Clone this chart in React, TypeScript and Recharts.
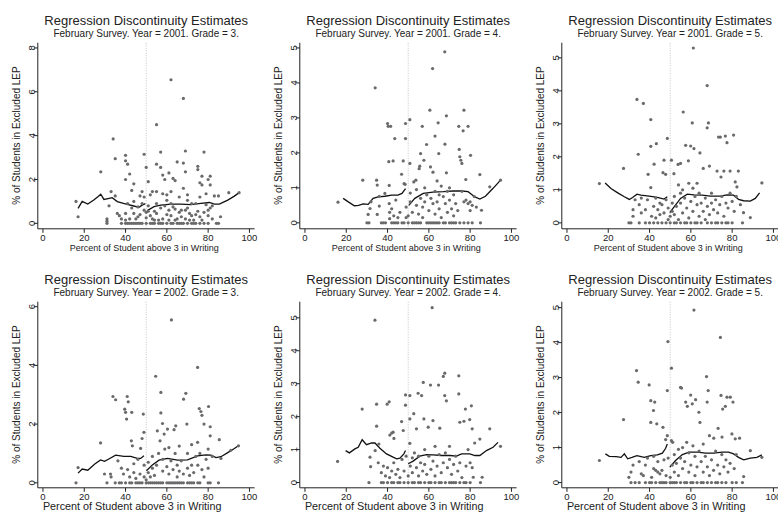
import React from "react";
import { ComposedChart, Scatter, Line, XAxis, YAxis, ReferenceLine } from "recharts";

type Pt = [number, number];

const FONT = '"Liberation Sans", Arial, sans-serif';
const TITLE = "Regression Discontinuity Estimates";
const X_LABEL = "Percent of Student above 3 in Writing";
const Y_LABEL = "% of Students in Excluded LEP";
const xTicks = [0, 20, 40, 60, 80, 100];
const cutoff = 50;

// 2001, grade 3
const p1Sub = "February Survey. Year = 2001. Grade = 3.";
const p1YTicks = [0, 2, 4, 6, 8];
const p1Points: Pt[] = [
  [16, 1.0], [17, 0.3], [28, 2.35], [31, 0.2], [31, 0.1], [31, 0], [32, 0.8], [33, 1.45], [34, 3.85], [35, 2.95],
  [35, 1.25], [36, 0.45], [37, 0.35], [38, 0.2], [38, 0], [40, 3.1], [40, 2.85], [41, 2.7], [42, 2.25], [40, 2.0],
  [43, 1.5], [44, 1.8], [40, 0.45], [41, 0.9], [43, 0.7], [44, 1.0], [42, 0.2], [40, 0.15], [40, 0], [41, 0],
  [42, 0], [43, 0], [44, 0], [44, 0.45], [45, 0.2], [45, 0], [46, 0.75], [46, 0.3], [46, 0], [47, 1.25],
  [47, 0.4], [47, 0], [48, 1.45], [48, 0.9], [48, 0], [49, 3.15], [49, 1.2], [49, 0.6], [50, 2.55], [50, 0.5],
  [50, 0.25], [50, 0], [51, 1.9], [51, 0.55], [51, 0.8], [52, 1.3], [52, 0.35], [52, 0], [53, 1.45], [53, 0.2],
  [53, 0], [54, 0.55], [54, 0.15], [54, 0], [55, 4.5], [55, 2.7], [55, 1.45], [55, 0.45], [55, 0.9], [56, 0.15],
  [56, 0], [57, 3.25], [57, 2.55], [57, 0.7], [57, 0], [58, 2.2], [58, 1.35], [58, 0.2], [58, 0], [59, 2.0],
  [59, 0.8], [60, 1.3], [60, 1.05], [60, 0.4], [60, 0], [61, 2.3], [61, 0.6], [61, 0.15], [62, 6.55], [62, 1.45],
  [62, 0.9], [62, 0.35], [62, 0], [63, 2.05], [63, 0.75], [63, 0], [64, 1.95], [64, 0.65], [64, 0.15], [65, 2.8],
  [65, 0.2], [65, 0], [66, 1.2], [66, 0.5], [66, 0], [67, 0.6], [67, 0.3], [67, 0], [68, 5.7], [68, 2.75],
  [68, 1.6], [68, 0], [69, 3.3], [69, 2.35], [69, 0.6], [69, 0.2], [70, 1.3], [70, 1.05], [70, 0.7], [70, 0],
  [71, 0.45], [71, 0.15], [72, 0.9], [72, 0.35], [72, 0], [73, 0.15], [73, 0], [74, 0.9], [74, 0.4], [74, 0],
  [75, 2.6], [75, 2.45], [75, 0.55], [76, 1.85], [76, 1.2], [76, 0.3], [76, 0], [77, 2.15], [77, 1.75], [77, 0.15],
  [78, 3.25], [78, 0.5], [78, 0], [79, 1.35], [79, 0.85], [80, 2.0], [80, 0.6], [80, 0.35], [80, 0], [81, 2.15],
  [81, 1.75], [81, 0.7], [82, 0.8], [82, 0.2], [83, 1.25], [84, 0], [85, 1.25], [85, 0], [86, 0.3], [90, 1.4],
  [95, 1.4],
];
const p1LineLeft: Pt[] = [
  [17, 0.68], [19, 1.0], [21.7, 0.88], [24.6, 1.06], [26.6, 1.21], [28, 1.33], [29.5, 1.09], [31, 1.12],
  [33.5, 1.17], [36, 0.99], [39, 0.91], [44, 0.79], [46.5, 0.73], [48, 0.83], [49.6, 0.9],
];
const p1LineRight: Pt[] = [
  [50.5, 0.58], [53.8, 0.76], [57, 0.83], [62, 0.88], [66.8, 0.88], [71.6, 0.85], [76.5, 0.91], [80.6, 0.95],
  [83, 0.88], [85.4, 0.88], [89.5, 1.06], [92.7, 1.24], [95, 1.4],
];

// 2001, grade 4
const p2Sub = "February Survey. Year = 2001. Grade = 4.";
const p2YTicks = [0, 1, 2, 3, 4, 5];
const p2Points: Pt[] = [
  [16, 0.59], [28, 1.22], [30, 0], [31, 0], [30.6, 0.24], [31.5, 0.41], [32, 0.6], [34, 3.86], [34.7, 1.22], [35, 1.08],
  [35, 0.24], [36, 0.76], [36, 0.48], [37, 0], [38, 0], [38.7, 0.84], [39, 0], [40, 2.84], [40.3, 2.76], [41.5, 2.76],
  [40.6, 1.75], [40.8, 1.07], [40.8, 0.55], [41, 0.3], [41, 0.12], [42, 0], [42.7, 1.77], [42, 0.4], [43, 0], [43, 0.2],
  [43.5, 2.41], [44, 0], [44, 0.65], [45, 0], [45, 0.15], [46, 0.3], [46.8, 1.39], [47, 0], [47.6, 1.77], [48, 1.12],
  [48.5, 1.1], [48, 0], [48.7, 2.84], [48.7, 2.41], [49, 0.45], [49, 0.15], [50, 0], [50, 0.2], [50.8, 2.95], [50.8, 1.7],
  [51, 0.85], [51, 0.6], [52, 0], [52, 0.3], [52.7, 1.17], [53, 0], [53.7, 1.22], [54, 0.95], [54, 0.5], [54, 0],
  [55, 0], [55, 0.25], [55.3, 1.55], [55.6, 1.62], [56, 1.98], [56, 0.7], [56, 0], [56.8, 2.76], [57, 0.15], [57, 0.45],
  [57.6, 1.79], [58, 1.0], [58, 0.6], [59, 0], [58.9, 2.24], [59, 0.8], [60, 0], [60, 0.35], [60.5, 3.22], [60.8, 1.6],
  [61, 0], [61, 0.7], [61.8, 4.41], [62, 1.45], [62, 0.55], [62, 0], [63, 2.48], [63, 0.9], [63, 0], [63, 0.25],
  [64, 1.2], [64, 0.6], [64, 0], [64.5, 2.86], [64.8, 1.98], [65, 0], [65, 0.8], [65, 0.4], [66, 1.05], [66, 0.15],
  [67, 0], [67, 0.75], [67.7, 4.89], [67.8, 2.25], [68, 0], [68, 0.55], [68.5, 3.06], [68.5, 1.43], [69, 0.9], [69, 0.3],
  [70, 0], [70, 0.65], [70, 1.0], [71, 0], [71, 0.4], [72, 0.2], [72, 0], [72, 0.8], [73, 0], [73, 0.55],
  [74, 0.35], [74.5, 2.76], [74.7, 2.1], [75, 1.89], [75, 0], [75.5, 1.79], [76, 1.7], [76, 0.9], [76.6, 2.63], [77, 3.22],
  [77, 0], [77, 0.6], [77.9, 1.24], [78, 0.65], [79, 2.76], [79, 0], [79, 0.55], [80, 0.6], [80, 0.35], [80.2, 1.93],
  [81, 0], [81, 0.5], [82, 0.75], [83, 0.45], [84.7, 1.38], [85, 0], [85.5, 0.36], [89.5, 1.03], [94.7, 1.22],
];
const p2LineLeft: Pt[] = [
  [18.5, 0.7], [21, 0.6], [23.9, 0.49], [26, 0.5], [28.2, 0.54], [30.6, 0.53], [33, 0.7], [35.5, 0.74],
  [38.7, 0.76], [42, 0.79], [45, 0.79], [47, 0.84], [48.7, 0.98],
];
const p2LineRight: Pt[] = [
  [50.3, 0.5], [53.2, 0.7], [57.3, 0.84], [62, 0.88], [67, 0.89], [71.8, 0.91], [75.8, 0.91], [79, 0.89],
  [82.3, 0.74], [84.7, 0.68], [87.4, 0.76], [91, 0.98], [94.4, 1.2],
];

// 2001, grade 5
const p3Sub = "February Survey. Year = 2001. Grade = 5.";
const p3YTicks = [0, 1, 2, 3, 4, 5];
const p3Points: Pt[] = [
  [15.7, 1.19], [27.4, 1.65], [30, 0], [31, 0], [32, 0.2], [32, 0.4], [33, 0.7], [33.9, 3.74], [34.5, 2.08], [35, 0],
  [35, 0.55], [36, 0.3], [36, 0.75], [37, 3.62], [38, 0], [38, 0.4], [39, 0.7], [39.3, 1.47], [40, 0], [40.6, 3.13],
  [40.6, 2.32], [40.6, 1.07], [41, 0.2], [42, 0], [42, 0.5], [42.2, 1.78], [43, 0.15], [43, 0.75], [43.3, 2.4], [44, 0],
  [44, 0.4], [45, 0.6], [45, 0.25], [46, 0], [46, 0.55], [46.5, 1.52], [47, 1.9], [47, 0.3], [47.8, 1.47], [48, 0],
  [48, 0.7], [48.6, 2.56], [49, 0.45], [49, 0.1], [50, 0], [50, 0.2], [50.6, 1.9], [51, 0.6], [51, 0.35], [51.8, 1.49],
  [52, 0], [52, 0.25], [52, 0.8], [53, 0], [53, 0.5], [53.8, 1.77], [54, 1.15], [54, 0.1], [55, 0], [55, 1.8],
  [55, 0.6], [55, 0.9], [56, 1.0], [56, 0.3], [56.3, 3.36], [57, 0], [57, 0.75], [57.5, 2.35], [58, 0], [58, 0.45],
  [58.8, 1.88], [59, 1.2], [59, 0.15], [59.9, 2.33], [60, 0], [60, 0.65], [60.7, 3.03], [61, 1.05], [61, 0.35], [61.2, 5.3],
  [61.5, 2.25], [62, 0], [62, 0.8], [63, 0], [63, 0.55], [63, 1.2], [64, 0.2], [64, 0.9], [64.4, 2.12], [65, 0],
  [65, 0.6], [66, 1.65], [66, 0.35], [67, 0.75], [67, 0.1], [67.9, 4.16], [67.9, 2.88], [68, 0], [68, 0.5], [68.5, 3.03],
  [69, 1.72], [69, 0.25], [70, 0], [70, 0.9], [70, 0.6], [71, 0.4], [72, 0], [72, 0.7], [72.7, 1.57], [73, 0],
  [73, 0.3], [73.4, 2.6], [74, 0.55], [74.3, 2.6], [74.6, 1.39], [75, 0], [75, 0.8], [76, 1.57], [76, 0.2], [76.7, 2.63],
  [77, 0], [77, 0.6], [77.5, 2.43], [78, 0], [78, 0.45], [79, 1.57], [79, 0.9], [80, 0], [80, 0.65], [80.7, 2.66],
  [81, 0.35], [81.5, 1.24], [82, 0.8], [82.3, 1.09], [83, 1.57], [84, 0.55], [85, 0], [85.5, 0.31], [88.8, 0.16], [94.4, 1.21],
];
const p3LineLeft: Pt[] = [
  [18.5, 1.21], [21.3, 1.04], [24.6, 0.91], [27.8, 0.79], [30.2, 0.71], [31.8, 0.77], [33.9, 0.87], [35.8, 0.84],
  [39.8, 0.81], [43.8, 0.77], [47, 0.72], [48.6, 0.79],
];
const p3LineRight: Pt[] = [
  [49.8, 0.31], [51.8, 0.48], [55, 0.74], [58.3, 0.87], [61.5, 0.85], [65.5, 0.84], [69.5, 0.81], [74.3, 0.81],
  [77.5, 0.85], [80.7, 0.84], [83.1, 0.71], [85.5, 0.67], [88.8, 0.66], [91.2, 0.74], [93.3, 0.91],
];

// 2002, grade 3
const p4Sub = "February Survey. Year = 2002. Grade = 3.";
const p4YTicks = [0, 2, 4, 6];
const p4Points: Pt[] = [
  [16, 0], [17, 0.52], [27.9, 1.36], [29.8, 0.3], [31, 0], [32.7, 0.3], [33, 0.2], [33.9, 2.94], [35, 0], [35.2, 2.83],
  [36.3, 0.75], [37, 0], [38, 0], [38, 0.5], [39, 0.3], [39.6, 2.51], [40, 2.4], [40, 0], [40.5, 2.17], [40.8, 2.94],
  [41, 0.45], [41.3, 2.76], [42, 0], [42, 0.2], [42.8, 1.43], [43, 2.4], [43, 0], [43.3, 1.26], [44, 0.65], [44, 0.35],
  [45, 0], [45, 0.15], [46, 0], [46, 0.8], [47, 0], [47, 0.3], [47.3, 1.17], [48, 1.51], [48, 0], [48.6, 2.34],
  [48.9, 1.72], [49, 0.6], [49, 0.2], [50, 0], [50, 0.1], [51, 0], [51, 0.35], [51, 0.7], [52, 0], [52, 0.2],
  [53, 0], [53, 0.5], [53, 0.9], [54, 0], [54, 0.25], [54.6, 3.63], [55, 0], [55, 0.6], [55.4, 1.77], [56, 0],
  [56, 1.0], [56.7, 1.43], [57, 0], [57.1, 3.08], [57.1, 2.38], [57.9, 2.02], [58, 0], [58, 0.4], [58, 0.8], [58.7, 1.66],
  [59, 1.15], [60, 0], [60, 0.55], [60.3, 1.83], [61, 0], [61, 0.3], [61, 1.2], [62, 0], [62, 0.75], [62.2, 5.55],
  [63, 0], [63, 0.45], [63.5, 1.81], [64, 0], [64, 1.0], [64.3, 1.94], [65, 0], [65, 0.6], [65, 0.2], [66, 0],
  [66, 1.25], [66, 0.4], [67, 0], [67, 0.75], [68, 0], [68, 0.3], [68.1, 2.85], [69.2, 3.05], [69.7, 2.0], [70, 0],
  [70, 0.5], [70, 1.0], [71, 0], [71, 0.25], [72, 0.6], [72, 0], [72, 1.3], [73, 0], [73, 0.35], [74, 0.9],
  [74.9, 3.93], [74.9, 1.38], [75, 0], [75, 0.6], [75.7, 2.53], [76, 0], [76, 1.0], [76.5, 2.43], [77, 2.3], [77, 0.45],
  [78, 2.0], [78, 0.2], [79, 0.8], [80, 0], [80, 1.15], [80, 0.5], [80.2, 2.6], [81, 1.91], [81, 1.6], [81, 0],
  [82, 0.9], [85, 0], [85.4, 1.47], [86.2, 0.83], [91, 1.11], [94.7, 1.26],
];
const p4LineLeft: Pt[] = [
  [17, 0.33], [19, 0.47], [21.7, 0.43], [25.1, 0.64], [27.9, 0.78], [29.8, 0.73], [31.9, 0.81], [35.2, 0.94],
  [39.2, 0.9], [42.5, 0.9], [45.7, 0.83], [47.3, 0.83], [48.9, 0.92],
];
const p4LineRight: Pt[] = [
  [50.1, 0.41], [53, 0.61], [56.2, 0.77], [60.3, 0.83], [65.2, 0.77], [70, 0.78], [74.9, 0.92], [78.9, 0.95],
  [81.4, 0.94], [83.8, 0.86], [86.2, 0.89], [89.5, 1.03], [92.7, 1.17], [95, 1.28],
];

// 2002, grade 4
const p5Sub = "February Survey. Year = 2002. Grade = 4.";
const p5YTicks = [0, 1, 2, 3, 4, 5];
const p5Points: Pt[] = [
  [15.8, 0.64], [27.7, 2.23], [31, 0], [31.5, 0.77], [31.8, 0.48], [34, 0.97], [33.9, 4.93], [34.7, 2.38], [34.7, 1.71], [35.5, 0.6],
  [35.8, 1.17], [37, 0], [37, 0.3], [38, 0], [38, 0.5], [39, 0.2], [39.8, 2.38], [40, 0], [40, 0.45], [40.8, 2.45],
  [41.1, 1.44], [41, 0.15], [42, 1.5], [42, 0], [42, 0.35], [42.7, 1.53], [43, 0], [43.1, 1.34], [43, 0.6], [44, 0.25],
  [45, 0], [45, 0.4], [46, 0], [46, 0.15], [46.8, 1.85], [47, 0.7], [47.6, 1.58], [48, 0], [48, 0.35], [48.7, 2.66],
  [48.7, 2.35], [49, 0.8], [50, 0], [50, 0.2], [50.8, 2.64], [50.8, 1.93], [50.8, 1.19], [51, 0.5], [52, 0], [52, 0.75],
  [52, 0.3], [52.7, 2.09], [53, 0], [53, 0.9], [54, 1.63], [54, 0.45], [54.8, 2.71], [55, 0], [55, 0.2], [55, 0.8],
  [56, 0], [56, 0.6], [56.5, 2.64], [57, 0.35], [57.3, 3.04], [57.6, 1.93], [58, 0], [58, 1.0], [58, 0.55], [59, 0.25],
  [59.7, 1.68], [60, 0], [60, 0.8], [60.8, 2.96], [61, 0], [61, 0.4], [61.6, 5.31], [62, 1.88], [62, 0.65], [63, 0],
  [63, 0.2], [63, 1.1], [64, 0.5], [64.7, 2.96], [65, 0], [65, 0.85], [65.3, 1.65], [66, 0], [66, 0.3], [67, 3.22],
  [67, 0.6], [67.7, 3.32], [67.7, 2.64], [68, 0], [68, 0.9], [68.5, 2.48], [69, 0.45], [70, 0], [70, 0.7], [70, 1.1],
  [71, 0], [71, 0.25], [72, 0], [72, 0.55], [73, 0], [73, 0.8], [74, 0.35], [74.5, 3.24], [74.5, 2.69], [75, 1.83],
  [75, 0], [75, 0.6], [76, 0.15], [77, 1.86], [77, 0], [77.7, 2.23], [78, 0], [78, 0.5], [79, 1.0], [79.8, 1.91],
  [80, 0], [80, 0.6], [80.6, 2.33], [81, 1.63], [81, 0.45], [81.5, 0.16], [82.2, 1.2], [84.7, 1.32], [85, 0], [85.8, 0.16],
  [89.5, 1.63], [94.7, 1.1],
];
const p5LineLeft: Pt[] = [
  [19.7, 0.97], [21.5, 0.9], [24.2, 1.02], [25.8, 1.07], [27.7, 1.3], [29.8, 1.15], [32.3, 1.2], [33.9, 1.2],
  [36.3, 1.04], [39.5, 0.87], [42.7, 0.77], [44.4, 0.72], [46, 0.74], [47.9, 0.87], [48.7, 0.97],
];
const p5LineRight: Pt[] = [
  [50, 0.57], [52.4, 0.65], [55.6, 0.8], [58.9, 0.85], [62, 0.84], [66.1, 0.82], [70.2, 0.82], [73.4, 0.8],
  [75.8, 0.87], [79.8, 0.87], [82.3, 0.82], [84.7, 0.82], [87.9, 0.97], [91.1, 1.07], [93.5, 1.22],
];

// 2002, grade 5
const p6Sub = "February Survey. Year = 2002. Grade = 5.";
const p6YTicks = [0, 1, 2, 3, 4, 5];
const p6Points: Pt[] = [
  [15.7, 0.63], [27.4, 1.8], [30, 0.15], [31, 0], [31, 0.3], [32, 0.5], [33, 0], [33.7, 3.2], [34.5, 2.87], [35, 0],
  [35, 0.6], [36, 0.25], [37, 0.2], [38, 0], [38, 0.5], [39, 0.7], [39.8, 2.79], [40, 0], [40.6, 2.34], [40.6, 1.72],
  [41, 0.15], [41, 0], [41.9, 2.06], [42, 0.4], [42, 0.75], [42.5, 2.3], [43, 0], [43, 0.35], [43.5, 1.68], [44, 0.3],
  [44, 0.6], [45, 0], [45, 0.25], [46, 0], [46, 0.35], [46.5, 1.58], [47, 0], [47, 0.65], [47.8, 1.23], [48, 0],
  [48, 0.2], [48.6, 2.63], [48.6, 1.34], [48.9, 4.03], [49, 0.7], [50, 0], [50, 0.15], [50.6, 3.27], [50.6, 1.2], [51, 0],
  [51, 0.5], [51.2, 1.15], [52, 0], [52, 0.3], [52, 0.8], [53, 0], [53, 0.55], [54, 0.95], [54, 0.2], [55, 0],
  [55, 2.72], [55, 0.7], [55.5, 2.7], [56, 0.4], [56, 1.0], [57, 0], [57, 0.6], [57.5, 2.3], [58, 0], [58, 1.15],
  [58.3, 2.18], [59, 0.3], [59, 0.85], [59.9, 2.5], [60, 0], [60, 0.5], [60.7, 2.25], [61, 0], [61, 1.05], [61.5, 4.93],
  [62, 0.75], [62, 0.2], [62.3, 2.37], [63, 0], [63, 0.45], [63.9, 2.01], [64, 0.9], [64.4, 1.72], [65, 0], [65, 0.6],
  [66, 0], [66, 0.3], [66, 1.1], [67, 0.75], [67.6, 3.03], [67.9, 2.3], [68, 0], [68, 0.45], [68.4, 2.63], [69, 1.34],
  [69, 0.2], [70, 0], [70, 0.65], [71, 0.35], [71.1, 1.27], [72, 0], [72, 0.9], [73, 0], [73, 0.5], [73.2, 1.55],
  [74, 0.25], [74.3, 4.15], [74.6, 2.49], [75, 0], [75, 0.8], [75.1, 1.3], [75.4, 2.1], [76, 0.45], [76.7, 2.18], [77, 0],
  [77, 0.65], [77.5, 2.44], [78, 0.3], [79, 0.55], [79.1, 2.44], [79.9, 1.39], [80, 0], [80.4, 2.3], [81, 0.4], [81.5, 1.25],
  [82, 0], [82, 0.8], [83.6, 1.27], [85, 0], [85.6, 0.17], [88.8, 0.91], [94.4, 0.72],
];
const p6LineLeft: Pt[] = [
  [18.6, 0.82], [20.5, 0.75], [23.8, 0.74], [26.2, 0.72], [27.8, 0.82], [29.4, 0.68], [31.5, 0.72], [33.9, 0.77],
  [37.4, 0.72], [40.6, 0.77], [43.8, 0.79], [46.2, 0.84], [47.8, 0.98], [48.6, 1.1],
];
const p6LineRight: Pt[] = [
  [49.8, 0.44], [52.6, 0.63], [55.9, 0.8], [59.1, 0.87], [63.1, 0.87], [67.1, 0.84], [71.1, 0.84], [75.1, 0.87],
  [78.3, 0.87], [80.7, 0.82], [83.1, 0.72], [85.6, 0.65], [88.8, 0.7], [92, 0.72], [94.4, 0.79],
];

const toXY = (arr: Pt[]) => arr.map(([x, y]) => ({ x, y }));

const W = 262;
const H = 259;
const PLOT_LEFT = 37.8;
const PLOT_W = 216.8;
const PLOT_TOP = 42.7;
const PLOT_BOTTOM = 228.8;
const Y_AXIS_W = 25;
const X_AXIS_H = 30;

const Dot = (props: any) =>
  props.cx == null ? <g /> : <circle cx={props.cx} cy={props.cy} r={1.6} fill="#6a6a6a" />;

const YTick = (props: any) => {
  const { x, y, payload } = props;
  const bx = x + 3;
  return (
    <text x={bx} y={y} transform={`rotate(-90 ${bx} ${y})`} textAnchor="middle" fontSize={9.5} fill="#222" fontFamily={FONT}>
      {payload.value}
    </text>
  );
};

function Panel(props: {
  left: number;
  top: number;
  sub: string;
  points: Pt[];
  lineL: Pt[];
  lineR: Pt[];
  yDomain: [number, number];
  yTicks: number[];
  xLabelSize: number;
  xLabelY: number;
  xLabelShift: number;
}) {
  const cx = PLOT_LEFT + PLOT_W / 2;
  const cy = PLOT_TOP + (PLOT_BOTTOM - PLOT_TOP) / 2;
  const text = (y: number, size: number, s: string, shift = 0) => (
    <div
      style={{
        position: "absolute", left: cx - 150 + shift, width: 300, top: y - size / 2, height: size,
        lineHeight: `${size}px`, fontSize: size, textAlign: "center", whiteSpace: "nowrap", color: "#222",
      }}
    >
      {s}
    </div>
  );
  return (
    <div style={{ position: "absolute", left: props.left, top: props.top, width: W, height: H, fontFamily: FONT }}>
      <ComposedChart
        width={W}
        height={H}
        margin={{ top: PLOT_TOP, right: W - PLOT_LEFT - PLOT_W, bottom: H - PLOT_BOTTOM - X_AXIS_H, left: PLOT_LEFT - Y_AXIS_W }}
      >
        <XAxis
          type="number" dataKey="x" domain={[-2.5, 102.5]} ticks={xTicks} interval={0} allowDataOverflow
          height={X_AXIS_H} tickSize={4} tickMargin={1} stroke="#222"
          tick={{ fontSize: 9.5, fill: "#222", fontFamily: FONT }}
        />
        <YAxis
          type="number" dataKey="y" domain={props.yDomain} ticks={props.yTicks} interval={0} allowDataOverflow
          width={Y_AXIS_W} tickSize={4} tickMargin={2} stroke="#222" tick={<YTick />}
        />
        <ReferenceLine x={cutoff} stroke="#c4c4c4" strokeDasharray="1 1.5" />
        <Scatter data={toXY(props.points)} shape={<Dot />} isAnimationActive={false} />
        <Line data={toXY(props.lineL)} dataKey="y" type="linear" stroke="#111" strokeWidth={1.3} dot={false} isAnimationActive={false} />
        <Line data={toXY(props.lineR)} dataKey="y" type="linear" stroke="#111" strokeWidth={1.3} dot={false} isAnimationActive={false} />
      </ComposedChart>
      {text(20, 13, TITLE)}
      {text(34, 10, props.sub)}
      {text(props.xLabelY, props.xLabelSize, X_LABEL, props.xLabelShift)}
      <div
        style={{
          position: "absolute", left: 15.7 - 100, top: cy - 5.5, width: 200, height: 11, lineHeight: "11px",
          fontSize: 10, textAlign: "center", transform: "rotate(-90deg)", whiteSpace: "nowrap", color: "#222",
        }}
      >
        {Y_LABEL}
      </div>
    </div>
  );
}

export default function App() {
  return (
    <div style={{ position: "absolute", left: 0, top: 0, width: 778, height: 512, overflow: "hidden", background: "#fff" }}>
      <Panel left={0} top={0} sub={p1Sub} points={p1Points} lineL={p1LineLeft} lineR={p1LineRight} yDomain={[-0.25, 8.24]} yTicks={p1YTicks} xLabelSize={9} xLabelY={248} xLabelShift={-2} />
      <Panel left={262} top={0} sub={p2Sub} points={p2Points} lineL={p2LineLeft} lineR={p2LineRight} yDomain={[-0.17, 5.15]} yTicks={p2YTicks} xLabelSize={9} xLabelY={248} xLabelShift={-2} />
      <Panel left={524} top={0} sub={p3Sub} points={p3Points} lineL={p3LineLeft} lineR={p3LineRight} yDomain={[-0.18, 5.46]} yTicks={p3YTicks} xLabelSize={9} xLabelY={248} xLabelShift={-2} />
      <Panel left={0} top={259} sub={p4Sub} points={p4Points} lineL={p4LineLeft} lineR={p4LineRight} yDomain={[-0.17, 6.17]} yTicks={p4YTicks} xLabelSize={10.8} xLabelY={247.5} xLabelShift={-14} />
      <Panel left={262} top={259} sub={p5Sub} points={p5Points} lineL={p5LineLeft} lineR={p5LineRight} yDomain={[-0.16, 5.49]} yTicks={p5YTicks} xLabelSize={10.8} xLabelY={247.5} xLabelShift={-14} />
      <Panel left={524} top={259} sub={p6Sub} points={p6Points} lineL={p6LineLeft} lineR={p6LineRight} yDomain={[-0.15, 5.17]} yTicks={p6YTicks} xLabelSize={10.8} xLabelY={247.5} xLabelShift={-14} />
    </div>
  );
}
